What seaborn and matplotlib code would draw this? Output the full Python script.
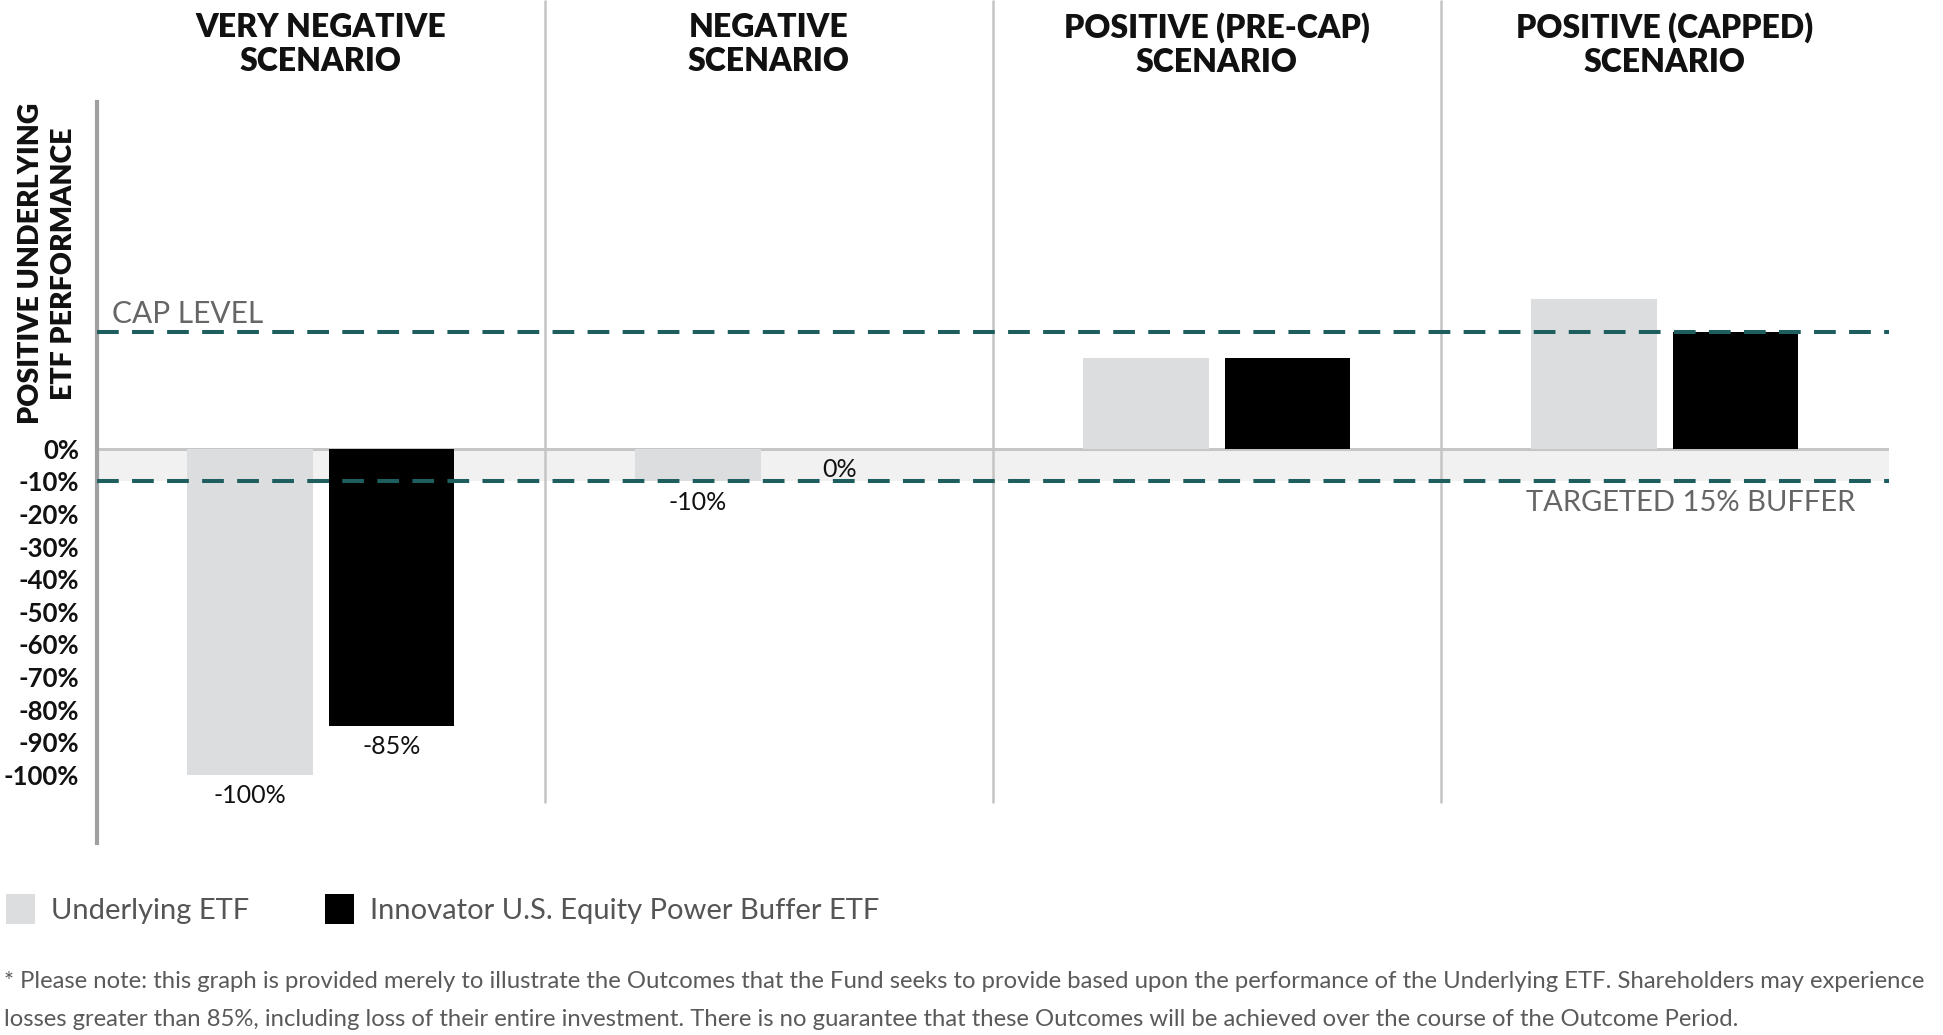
import numpy as np
import pandas as pd
import matplotlib
matplotlib.use('Agg')
import matplotlib.pyplot as plt
import matplotlib.transforms as mtransforms
import seaborn as sns

# chart data
scenarios = ['VERY NEGATIVE\nSCENARIO', 'NEGATIVE\nSCENARIO',
             'POSITIVE (PRE-CAP)\nSCENARIO', 'POSITIVE (CAPPED)\nSCENARIO']
series_names = ['Underlying ETF', 'Innovator U.S. Equity Power Buffer ETF']
underlying = [-100, -10, 28, 46]
buffer_etf = [-85, 0, 28, 36]
underlying_labels = ['-100%', '-10%', '', '']
buffer_labels = ['-85%', '0%', '', '']
ytick_values = [0, -10, -20, -30, -40, -50, -60, -70, -80, -90, -100]
ytick_labels = ['0%', '-10%', '-20%', '-30%', '-40%', '-50%', '-60%', '-70%', '-80%', '-90%', '-100%']
cap_level = 36
buffer_level = -10
footnote = ['* Please note: this graph is provided merely to illustrate the Outcomes that the Fund seeks to provide '
            'based upon the performance of the Underlying ETF. Shareholders may experience',
            'losses greater than 85%, including loss of their entire investment. There is no guarantee that these '
            'Outcomes will be achieved over the course of the Outcome Period.']

df = pd.DataFrame({
    'scenario': scenarios * 2,
    'series': [series_names[0]] * 4 + [series_names[1]] * 4,
    'value': underlying + buffer_etf,
})

sns.set_style('white')
font = ['Lato', 'DejaVu Sans']
plt.rcParams['font.family'] = font

TEAL = '#1e5e5e'
GRAY_BAR = '#dcdddf'
BAND = '#f0f1f0'
SEP = '#c4c4c4'

fig = plt.figure(figsize=(19.43, 10.35), dpi=100)
ax = fig.add_axes([0.0499, 0.1855, 0.9222, 0.7159])

# buffer band behind everything
ax.axhspan(buffer_level, 0, color=BAND, zorder=0, lw=0)

sns.barplot(data=df, x='scenario', y='value', hue='series', order=scenarios,
            hue_order=series_names, palette=[GRAY_BAR, '#000000'], saturation=1,
            width=0.632, gap=0.114, linewidth=0, ax=ax, zorder=2)

ax.set_xlim(-0.5, 3.5)
ax.set_ylim(-120.9, 106.4)

ax.axhline(0, color='#c6c6c6', lw=2.2, zorder=1)
for lvl in [cap_level, buffer_level]:
    ax.axhline(lvl, color=TEAL, lw=2.9, dashes=(5.4, 3.3), zorder=3)

# scenario separators, running up to the top of the figure
ax.vlines([0.5, 1.5, 2.5], -108.6, 137.7, colors=SEP, lw=1.8, clip_on=False, zorder=1)

sns.despine(ax=ax, left=False, bottom=True, top=True, right=True)
ax.spines['left'].set_color('#a0a0a2')
ax.spines['left'].set_linewidth(3)
ax.set_xticks([])
ax.set_xlabel('')
ax.set_ylabel('')
ax.set_yticks(ytick_values)
ax.set_yticklabels(ytick_labels, fontsize=18.5, fontweight='bold', color='#111111')
ax.tick_params(axis='y', length=0, pad=13)

# value labels under the negative bars
for cont, labels in zip(ax.containers, [underlying_labels, buffer_labels]):
    for bar, lab in zip(cont, labels):
        if lab:
            ax.annotate(lab, (bar.get_x() + bar.get_width() / 2, bar.get_height()),
                        xytext=(0, -6.5), textcoords='offset points', ha='center', va='top',
                        fontsize=18, color='#111111')

# scenario headers
trans = mtransforms.blended_transform_factory(ax.transData, fig.transFigure)
for i, s in enumerate(scenarios):
    ax.text(i, 0.957, s, transform=trans, ha='center', va='center', fontsize=23,
            fontweight='heavy', linespacing=1.2, color='#111111')

ax.text(0.0084, cap_level + 5.5, 'CAP LEVEL', fontsize=21.5, color='#666666',
        va='center', ha='left',
        transform=mtransforms.blended_transform_factory(ax.transAxes, ax.transData))
ax.text(2.69, buffer_level - 6.5, 'TARGETED 15% BUFFER', fontsize=21, color='#666666',
        va='center', ha='left')

fig.text(0.0245, 0.7455, 'POSITIVE UNDERLYING\nETF PERFORMANCE', rotation=90,
         ha='center', va='center', multialignment='center', fontsize=20.5,
         fontweight='heavy', linespacing=1.3, color='#111111')

# legend at the bottom
sns.move_legend(ax, 'upper left', bbox_to_anchor=(0.0, 1 - 888 / 1035),
                bbox_transform=fig.transFigure, ncol=2, frameon=False, title=None,
                fontsize=21, handlelength=1.0, handleheight=1.2, handletextpad=0.55,
                columnspacing=2.6, borderaxespad=0, borderpad=0.2)
for t in ax.get_legend().get_texts():
    t.set_color('#555555')

fig.text(0.002, 1 - 982 / 1035, footnote[0], fontsize=17.2, color='#5a5a5a', va='center', ha='left')
fig.text(0.002, 1 - 1019 / 1035, footnote[1], fontsize=17.2, color='#5a5a5a', va='center', ha='left')

fig.savefig('out.png', dpi=100)
